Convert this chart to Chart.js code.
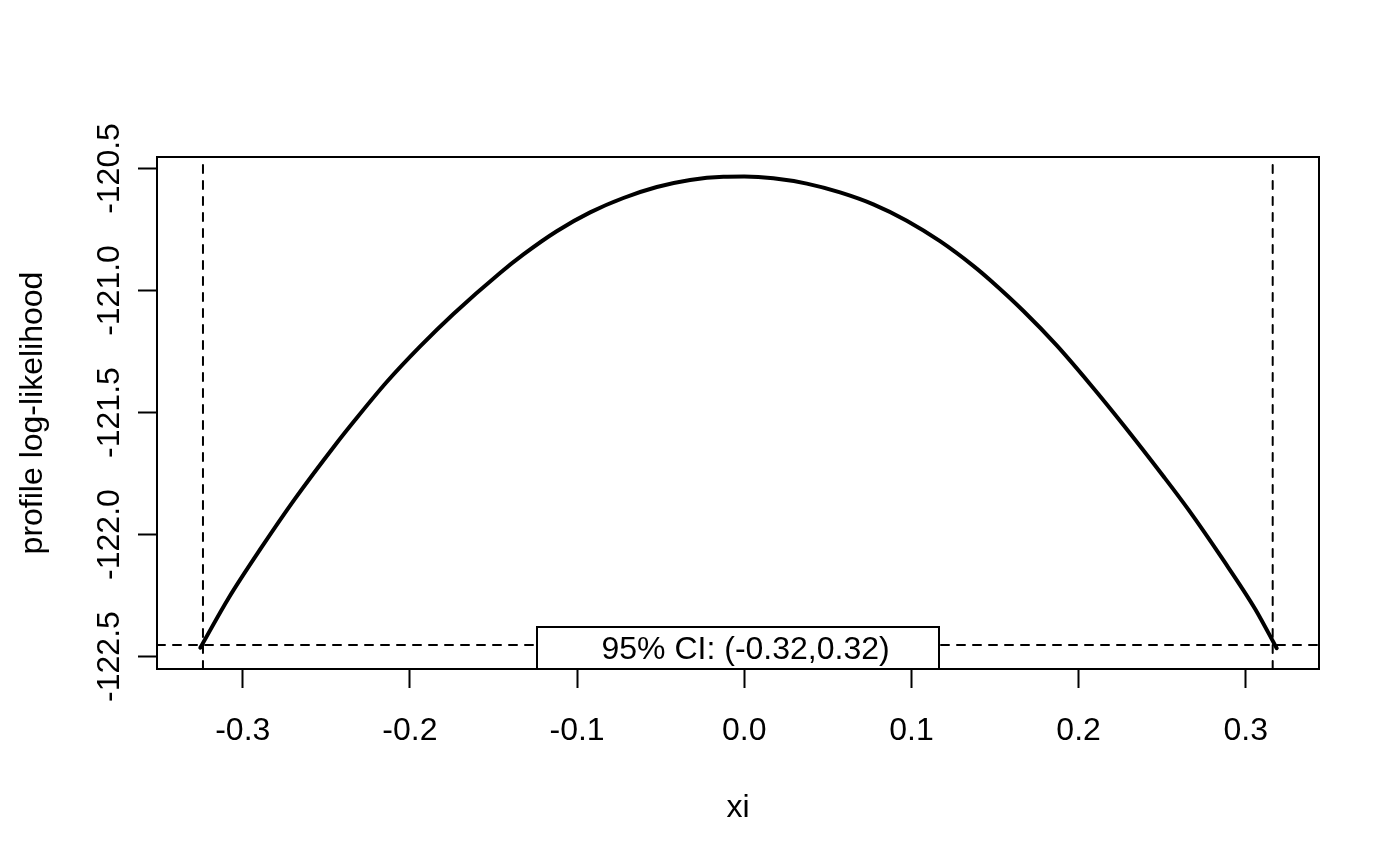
<!DOCTYPE html>
<html>
<head>
<meta charset="utf-8">
<script src="https://cdn.jsdelivr.net/npm/chart.js@4.4.1/dist/chart.umd.min.js"></script>
<style>
  html, body { margin: 0; padding: 0; background: #ffffff; }
  #wrap { width: 1400px; height: 866px; }
</style>
</head>
<body>
<div id="wrap"><canvas id="c" width="1400" height="866"></canvas></div>
<script>
// ---- data ----
const xiValues = [-0.3254, -0.3086, -0.2886, -0.2687, -0.2448, -0.2338, -0.2139, -0.1939, -0.1740,
  -0.1461, -0.1321, -0.1122, -0.0922, -0.0723, -0.0523, -0.0324, -0.0125, 0.0000, 0.0174, 0.0374,
  0.0573, 0.0772, 0.0972, 0.1171, 0.1370, 0.1470, 0.1670, 0.1869, 0.2069, 0.2268, 0.2507, 0.2657,
  0.2856, 0.3056, 0.3185];
const profileLL = [-122.464, -122.262, -122.051, -121.853, -121.634, -121.539, -121.375, -121.229, -121.096,
  -120.928, -120.852, -120.757, -120.680, -120.621, -120.576, -120.547, -120.534, -120.533, -120.540, -120.562,
  -120.598, -120.647, -120.714, -120.798, -120.899, -120.957, -121.084, -121.225, -121.384, -121.551, -121.761, -121.898,
  -122.095, -122.305, -122.466];
const ciLevel = [-122.453];          // horizontal cut-off line
const ciBounds = [-0.3238, 0.3161];  // vertical CI limits
const xRange = [-0.3513, 0.3438];
const yRange = [-122.551, -120.453];
const xTicks = [-0.3, -0.2, -0.1, 0.0, 0.1, 0.2, 0.3];
const yTicks = [-122.5, -122.0, -121.5, -121.0, -120.5];
const xTitle = 'xi';
const yTitle = 'profile log-likelihood';
const legendText = '95% CI: (-0.32,0.32)';

const FONT = '32px "Liberation Sans", Arial, Helvetica, sans-serif';

const curve = xiValues.map((x, i) => ({ x: x, y: profileLL[i] }));
const hLine = [{ x: xRange[0], y: ciLevel[0] }, { x: xRange[1], y: ciLevel[0] }];
const vLines = ciBounds.map(b => [{ x: b, y: yRange[0] }, { x: b, y: yRange[1] }]);

const dashed = {
  showLine: true, borderColor: '#000', borderWidth: 2, borderDash: [8, 8],
  borderCapStyle: 'round', pointRadius: 0, fill: false, tension: 0
};

const rPlot = {
  id: 'rPlot',
  afterDatasetsDraw(chart) {
    const ctx = chart.ctx, a = chart.chartArea;
    const cx = (a.left + a.right) / 2;
    // legend box ("bottom")
    const w = 402, h = 42;
    ctx.save();
    ctx.fillStyle = '#fff';
    ctx.strokeStyle = '#000';
    ctx.lineWidth = 2;
    ctx.fillRect(cx - w / 2, a.bottom - h, w, h);
    ctx.strokeRect(cx - w / 2, a.bottom - h, w, h);
    ctx.fillStyle = '#000';
    ctx.font = FONT;
    ctx.textAlign = 'left';
    ctx.textBaseline = 'alphabetic';
    ctx.fillText(legendText, cx - w / 2 + 64.5, a.bottom - 10);
    ctx.restore();
  },
  afterDraw(chart) {
    const ctx = chart.ctx, a = chart.chartArea;
    const xs = chart.scales.x, ys = chart.scales.y;
    ctx.save();
    ctx.strokeStyle = '#000';
    ctx.lineWidth = 2;
    ctx.strokeRect(a.left, a.top, a.right - a.left, a.bottom - a.top);
    ctx.fillStyle = '#000';
    ctx.font = FONT;
    ctx.textBaseline = 'alphabetic';
    ctx.textAlign = 'center';
    xTicks.forEach(v => {
      ctx.fillText(v.toFixed(1), xs.getPixelForValue(v), a.bottom + 71);
    });
    ctx.fillText(xTitle, (a.left + a.right) / 2, a.bottom + 148);
    yTicks.forEach(v => {
      ctx.save();
      ctx.translate(a.left - 38.5, ys.getPixelForValue(v));
      ctx.rotate(-Math.PI / 2);
      ctx.fillText(v.toFixed(1), 0, 0);
      ctx.restore();
    });
    ctx.save();
    ctx.translate(a.left - 115, (a.top + a.bottom) / 2);
    ctx.rotate(-Math.PI / 2);
    ctx.fillText(yTitle, 0, 0);
    ctx.restore();
    ctx.restore();
  }
};

new Chart(document.getElementById('c'), {
  type: 'scatter',
  data: {
    datasets: [
      Object.assign({ data: hLine }, dashed),
      Object.assign({ data: vLines[0] }, dashed),
      Object.assign({ data: vLines[1] }, dashed),
      {
        data: curve, showLine: true, borderColor: '#000', borderWidth: 4,
        borderCapStyle: 'round', borderJoinStyle: 'round',
        pointRadius: 0, fill: false, cubicInterpolationMode: 'monotone'
      }
    ]
  },
  options: {
    responsive: false,
    devicePixelRatio: 1,
    animation: false,
    events: [],
    layout: { padding: { left: 138, right: 81, top: 157, bottom: 178 } },
    plugins: { legend: { display: false }, tooltip: { enabled: false }, title: { display: false } },
    scales: {
      x: {
        type: 'linear', position: 'bottom', min: xRange[0], max: xRange[1],
        afterBuildTicks: s => { s.ticks = xTicks.map(v => ({ value: v })); },
        afterFit: s => { s.height = 19; },
        ticks: { display: false },
        grid: { display: true, drawOnChartArea: false, drawTicks: true, tickLength: 19,
                tickColor: '#000', tickWidth: 2, color: '#000' },
        border: { display: true, color: '#000', width: 2 }
      },
      y: {
        type: 'linear', position: 'left', min: yRange[0], max: yRange[1],
        afterBuildTicks: s => { s.ticks = yTicks.map(v => ({ value: v })); },
        afterFit: s => { s.width = 19; },
        ticks: { display: false },
        grid: { display: true, drawOnChartArea: false, drawTicks: true, tickLength: 19,
                tickColor: '#000', tickWidth: 2, color: '#000' },
        border: { display: true, color: '#000', width: 2 }
      }
    }
  },
  plugins: [rPlot]
});
</script>
</body>
</html>
